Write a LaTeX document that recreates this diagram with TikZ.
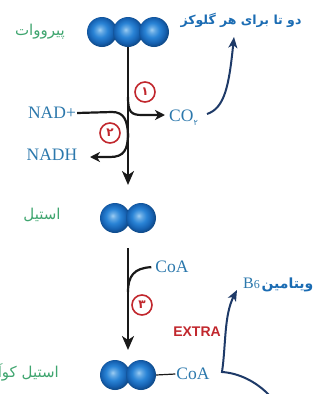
\documentclass[tikz,border=0pt]{standalone}
\usepackage{fontspec}
\setmainfont{Liberation Serif}
\newfontfamily\fa[Script=Arabic]{DejaVu Sans}
\newfontfamily\exfont{Liberation Sans}
\usetikzlibrary{arrows.meta}
\TeXXeTstate=1
\definecolor{lblgreen}{HTML}{3FA56F}
\definecolor{lblblue}{HTML}{2C78AC}
\definecolor{boldblue}{HTML}{1B6CB3}
\definecolor{redc}{HTML}{C1272D}
\definecolor{navyc}{HTML}{1E3A68}
\definecolor{ballhi}{HTML}{9DCDF2}
\definecolor{ballmid}{HTML}{2A84D6}
\definecolor{balldark}{HTML}{1560B0}
\pgfdeclareradialshading{myball}{\pgfqpoint{-4bp}{4bp}}{color(0bp)=(ballhi); color(5bp)=(ballhi!50!ballmid); color(12bp)=(ballmid); color(21bp)=(balldark); color(25bp)=(balldark!80!black); color(50bp)=(balldark!80!black)}
\tikzset{
  ball/.style={circle, minimum size=30pt, inner sep=0pt, shading=myball},
  glabel/.style={text=lblgreen, inner sep=0pt, font=\fa\fontsize{15}{17}\selectfont},
  tlabel/.style={text=lblblue, inner sep=1pt, font=\fontsize{17.5}{20}\selectfont},
  numc/.style={circle, draw=redc, line width=1.6pt, minimum size=20pt, inner sep=0pt, text=redc, font=\fa\bfseries\fontsize{12}{13}\selectfont},
  mainline/.style={line width=2.2pt, black!90},
  branch/.style={line width=2.2pt, black!90},
  mainhead/.style={-{Stealth[length=14pt,width=12pt,inset=4pt]}},
  smallhead/.style={-{Stealth[length=10pt,width=10pt,inset=3pt]}},
  navyarrow/.style={line width=2pt, navyc, -{Stealth[length=11pt,width=9pt,inset=3pt]}},
  boldfa/.style={text=boldblue, inner sep=0pt, font=\fa\bfseries\fontsize{12.5}{15}\selectfont},
}
\begin{document}
\begin{tikzpicture}[x=1pt,y=-1pt]
\useasboundingbox (0,0) rectangle (330,394);
% balls
\node[ball] (p1) at (102,32) {};
\node[ball] (p2) at (128,32) {};
\node[ball] (p3) at (154,32) {};
\node[ball] (a1) at (115,218) {};
\node[ball] (a2) at (141,218) {};
\node[ball] (b1) at (115,375) {};
\node[ball] (b2) at (141,375) {};
% green labels
\node[glabel] (lp) at (40,32) {\beginR پیرووات\endR};
\node[glabel] (la) at (42,215) {\beginR استیل\endR};
\node[glabel, anchor=east] (lb) at (59,372) {\beginR استیل کوآنزیم \beginL A\endL\endR};
% blue labels
\node[tlabel] (nad) at (52,113) {NAD+};
\node[tlabel] (nadh) at (52,155) {NADH};
\node[tlabel, anchor=base west] (co2) at (168,121) {CO\raisebox{-4pt}{\fa\fontsize{8}{9}\selectfont ۲}};
\node[tlabel] (coa1) at (172,267) {CoA};
\node[tlabel] (coa2) at (193,374) {CoA};
% numbered circles
\node[numc] (s1) at (145,92) {۱};
\node[numc] (s2) at (110,133) {۲};
\node[numc] (s3) at (142,305) {۳};
% top-right and right texts
\node[boldfa] (two) at (241,20) {\beginR دو تا برای هر گلوکز\endR};
\node[inner sep=0pt, anchor=west] (vit) at (243,285) {{\color{lblblue}\fontsize{16}{18}\selectfont B{\fontsize{12}{14}\selectfont 6}}\,{\fa\bfseries\fontsize{14}{16}\selectfont\color{boldblue}\beginR ویتامین\endR}};
\node[text=redc, inner sep=0pt, font=\exfont\bfseries\fontsize{14}{16}\selectfont] (ex) at (197,332) {EXTRA};
% coordinates
\coordinate (t1) at (128,185);
\coordinate (j1) at (128,97);
\coordinate (e1) at (165,115);
\coordinate (j2) at (128,133);
\coordinate (e2) at (90,157);
\coordinate (s2top) at (128,248);
\coordinate (t2) at (128,350);
\coordinate (n1) at (207,114);
\coordinate (n1t) at (234,37);
\coordinate (n2) at (270,396);
\coordinate (n2c) at (222,372);
\coordinate (n2t) at (237,290);
% main arrows
\draw[mainline, mainhead] (p2.south) -- (t1);
\draw[mainline, mainhead] (s2top) -- (t2);
% branches
\draw[branch, smallhead] (j1) .. controls (128,112) and (131,115) .. (142,115) -- (e1);
\draw[branch] (nad.east) -- (112,112) .. controls (124,112) and (128,120) .. (128,138);
\draw[branch, smallhead] (j2) .. controls (128,150) and (124,157) .. (110,157) -- (e2);
\draw[branch, shorten <=3pt] (coa1.west) .. controls (134,268) and (128,276) .. (128,292);
\draw[line width=1.2pt, black!90] (b2.east) -- (coa2.west);
% navy arrows
\draw[navyarrow] (n1) .. controls (225,108) and (229,85) .. (n1t);
\draw[navyarrow] (n2) .. controls (256,381) and (238,373) .. (n2c) .. controls (226,345) and (224,315) .. (n2t);
\end{tikzpicture}
\end{document}
